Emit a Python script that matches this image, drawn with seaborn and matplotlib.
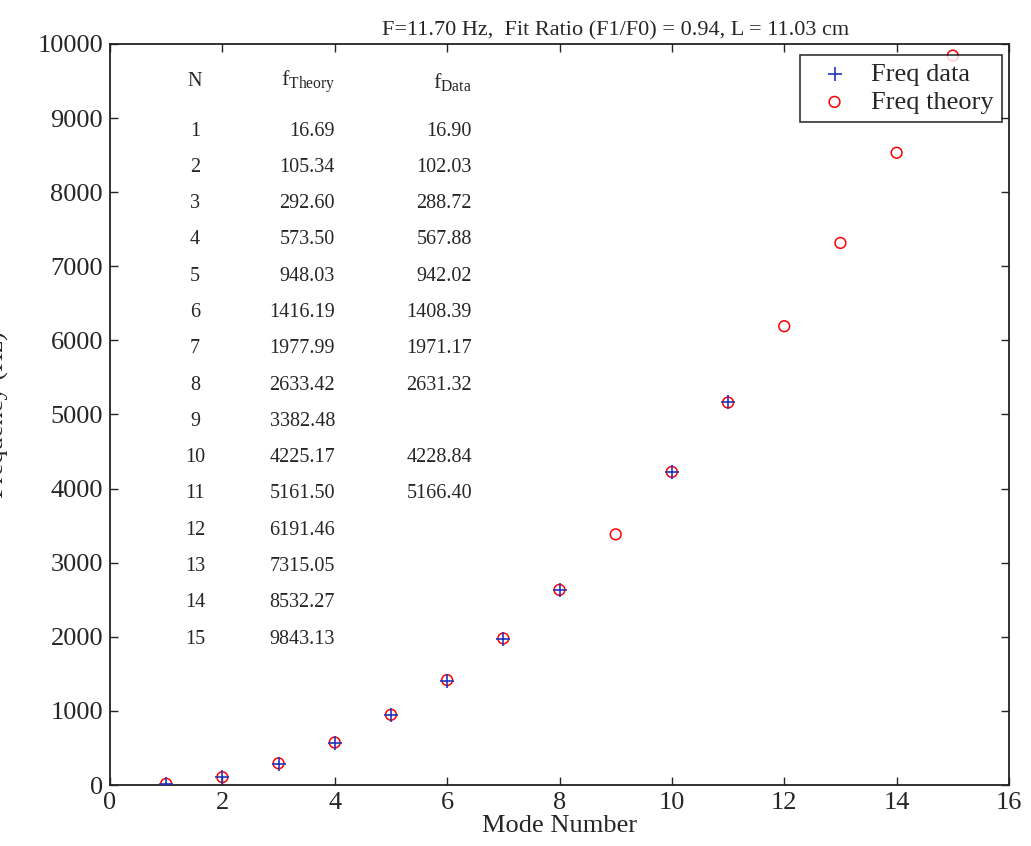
import matplotlib
matplotlib.use("Agg")
import matplotlib.pyplot as plt
import numpy as np
import pandas as pd
import seaborn as sns

# 数据
mode_theory = list(range(1, 16))
freq_theory = [16.69, 105.34, 292.60, 573.50, 948.03, 1416.19, 1977.99, 2633.42,
               3382.48, 4225.17, 5161.50, 6191.46, 7315.05, 8532.27, 9843.13]
mode_data = [1, 2, 3, 4, 5, 6, 7, 8, 10, 11]
freq_data = [16.90, 102.03, 288.72, 567.88, 942.02, 1408.39, 1971.17, 2631.32,
             4228.84, 5166.40]

title = "F=11.70 Hz,  Fit Ratio (F1/F0) = 0.94, L = 11.03 cm"

sns.set_style("ticks")
plt.rcParams["font.family"] = ["Liberation Serif", "DejaVu Serif"]
plt.rcParams["mathtext.fontset"] = "custom"
plt.rcParams["mathtext.rm"] = "Liberation Serif"
plt.rcParams["mathtext.it"] = "Liberation Serif:italic"

df_data = pd.DataFrame({"mode": mode_data, "freq": freq_data})
df_theory = pd.DataFrame({"mode": mode_theory, "freq": freq_theory})

fig = plt.figure(figsize=(10.31, 8.46), dpi=100)
ax = fig.add_axes([110 / 1031, 1 - 785 / 846, 899 / 1031, 741 / 846])

sns.scatterplot(data=df_data, x="mode", y="freq", ax=ax, marker="+", s=100,
                color="#2233bb", linewidth=1.2, label="Freq data", zorder=3)
sns.scatterplot(data=df_theory, x="mode", y="freq", ax=ax, marker="o", s=60,
                facecolors="none", edgecolor="red", linewidth=1.1,
                label="Freq theory", zorder=2)

ax.set_xlim(0, 16)
ax.set_ylim(0, 10000)
ax.set_xticks(np.arange(0, 17, 2))
ax.set_yticks(np.arange(0, 10001, 1000))
ax.tick_params(direction="in", top=True, right=True, labelsize=19, length=6,
               width=1.0)
ax.tick_params(axis="y", pad=5)
ax.tick_params(axis="x", pad=5)
for sp in ax.spines.values():
    sp.set_linewidth(1.3)
    sp.set_color("#222222")

ax.set_xlabel("Mode Number", fontsize=19, labelpad=1)
ax.set_ylabel("Frequency (Hz)", fontsize=19)
ax.yaxis.set_label_coords(-0.112, 0.5)
ax.set_title(title, fontsize=16, pad=6, x=(616 - 110) / 899)

# 表格
y0 = 1 - (131 - 44) / 741
dy = 36.3 / 741
yh = 1 - (82 - 44) / 741
xn = (195 - 110) / 899
xt = (335 - 110) / 899
xd = (472 - 110) / 899
ax.text(xn, yh, "N", transform=ax.transAxes, ha="center", va="center", fontsize=14.5)
ax.text(xt, yh, r"f$_{\mathrm{Theory}}$", transform=ax.transAxes, ha="right",
        va="center", fontsize=16)
ax.text(xd, yh, r"f$_{\mathrm{Data}}$", transform=ax.transAxes, ha="right",
        va="center", fontsize=16)
data_map = dict(zip(mode_data, freq_data))
for i, (n, ft) in enumerate(zip(mode_theory, freq_theory)):
    y = y0 - i * dy
    ax.text(xn, y, str(n), transform=ax.transAxes, ha="center", va="center", fontsize=14.5)
    ax.text(xt, y, f"{ft:.2f}", transform=ax.transAxes, ha="right", va="center", fontsize=14.5)
    if n in data_map:
        ax.text(xd, y, f"{data_map[n]:.2f}", transform=ax.transAxes, ha="right",
                va="center", fontsize=14.5)

leg = ax.legend(loc="upper right", bbox_to_anchor=(1002 / 1031, 1 - 55 / 846),
                bbox_transform=fig.transFigure, fontsize=19, frameon=True,
                fancybox=False, borderpad=0.3, handletextpad=0.4,
                handlelength=2.0, labelspacing=0.15, borderaxespad=0)
leg.get_frame().set_edgecolor("black")
leg.get_frame().set_linewidth(1.2)

fig.savefig("out.png", dpi=100)
